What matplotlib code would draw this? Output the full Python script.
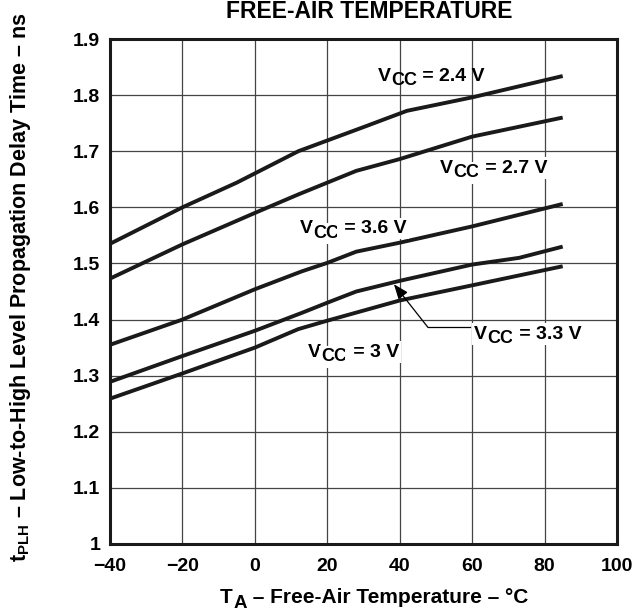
import matplotlib
matplotlib.use("Agg")
import matplotlib.pyplot as plt
import numpy as np

plt.rcParams['font.family'] = ['Liberation Sans', 'DejaVu Sans']
plt.rcParams['font.weight'] = 'bold'
plt.rcParams['mathtext.fontset'] = 'custom'
plt.rcParams['mathtext.rm'] = 'Liberation Sans:bold'
plt.rcParams['mathtext.bf'] = 'Liberation Sans:bold'
plt.rcParams['mathtext.it'] = 'Liberation Sans:bold'
plt.rcParams['mathtext.default'] = 'bf'

# Data (temperature in °C, delay in ns)
t_24 = [-40, -20, -5, 12, 30, 42, 60, 85]
v_24 = [1.535, 1.600, 1.644, 1.700, 1.743, 1.772, 1.796, 1.834]

t_27 = [-40, -20, 0, 12, 28, 40, 60, 85]
v_27 = [1.473, 1.534, 1.590, 1.623, 1.665, 1.686, 1.726, 1.760]

t_36 = [-40, -20, 0, 13, 20, 28, 40, 60, 80, 85]
v_36 = [1.355, 1.400, 1.454, 1.486, 1.501, 1.521, 1.537, 1.566, 1.598, 1.606]

t_33 = [-40, -20, 0, 13, 20, 28, 40, 60, 73, 85]
v_33 = [1.289, 1.335, 1.380, 1.412, 1.430, 1.450, 1.469, 1.498, 1.510, 1.530]

t_30 = [-40, -20, 0, 12, 20, 40, 60, 85]
v_30 = [1.259, 1.304, 1.350, 1.383, 1.398, 1.434, 1.461, 1.495]

x_ticks = [-40, -20, 0, 20, 40, 60, 80, 100]
x_tick_labels = ['\u221240', '\u221220', '0', '20', '40', '60', '80', '100']
y_ticks = [1.0, 1.1, 1.2, 1.3, 1.4, 1.5, 1.6, 1.7, 1.8, 1.9]
y_tick_labels = ['1', '1.1', '1.2', '1.3', '1.4', '1.5', '1.6', '1.7', '1.8', '1.9']

fig = plt.figure(figsize=(6.4, 6.11), dpi=100)
ax = fig.add_axes([110/640, 1-544/611, 507/640, 505/611])

for t, v in [(t_24, v_24), (t_27, v_27), (t_36, v_36), (t_33, v_33), (t_30, v_30)]:
    ax.plot(t, v, color='#1a1a1a', lw=2.8, solid_capstyle='butt', zorder=3)

ax.set_xlim(-40, 100)
ax.set_ylim(1.0, 1.9)
ax.set_xticks(x_ticks)
ax.set_xticklabels(x_tick_labels)
ax.set_yticks(y_ticks)
ax.set_yticklabels(y_tick_labels)
ax.tick_params(length=0, labelsize=14, pad=7)
ax.tick_params(axis='x', pad=10)
for lab in ax.get_xticklabels() + ax.get_yticklabels():
    lab.set_fontweight('bold')
ax.grid(True, color='#444444', lw=0.9, zorder=1)
for s in ax.spines.values():
    s.set_linewidth(2.2)
    s.set_color('#1a1a1a')
    s.set_zorder(5)


def sub_label(x, y, main, sub, rest, fs, sfs, drop, box, transform=None):
    bb = dict(facecolor='white', edgecolor='none', pad=1.5) if box else None
    kw = dict(fontweight='bold', zorder=4, bbox=bb, clip_on=False)
    t1 = ax.text(x, y, main, fontsize=fs, ha='left', va='baseline',
                 transform=transform if transform is not None else ax.transData, **kw)
    t2 = ax.annotate(sub, xy=(1, 0), xycoords=t1, xytext=(0.3, -drop),
                     textcoords='offset points', fontsize=sfs,
                     ha='left', va='bottom', annotation_clip=False, **kw)
    t3 = ax.annotate(rest, xy=(1, 0), xycoords=(t2, t1), fontsize=fs,
                     ha='left', va='bottom', annotation_clip=False, **kw)
    return t1, t2, t3


sub_label(34, 1.826, 'V', 'CC', ' = 2.4 V', 14, 13, 3.5, False)
sub_label(51.2, 1.662, 'V', 'CC', ' = 2.7 V', 14, 13, 3.5, True)
sub_label(12.3, 1.554, 'V', 'CC', ' = 3.6 V', 14, 13, 3.5, True)
sub_label(14.7, 1.334, 'V', 'CC', ' = 3 V', 14, 13, 3.5, True)
sub_label(60.6, 1.366, 'V', 'CC', ' = 3.3 V', 14, 13, 3.5, True)

# leader + arrow for 3.3 V
ax.plot([47.8, 59.5], [1.386, 1.386], color='black', lw=0.9, zorder=4)
ax.annotate('', xy=(38.4, 1.463), xytext=(47.8, 1.386),
            arrowprops=dict(arrowstyle='-|>,head_length=0.9,head_width=0.35', lw=0.9,
                            color='black', shrinkA=0, shrinkB=0), zorder=4)

fig.text(369/640, 1-18/611, 'FREE-AIR TEMPERATURE', fontsize=16.5, fontweight='bold',
         ha='center', va='baseline')
sub_label(220/640, 1-603/611, 'T', 'A', ' \u2013 Free-Air Temperature \u2013 \u00b0C',
          15, 13.5, 3.5, False, transform=fig.transFigure)
fig.text(21/640, 1-287.5/611, 't$_{PLH}$ \u2013 Low-to-High Level Propagation Delay Time \u2013 ns',
         fontsize=15.5, fontweight='bold', rotation=90, ha='center', va='center')

fig.savefig('out.png', dpi=100)
